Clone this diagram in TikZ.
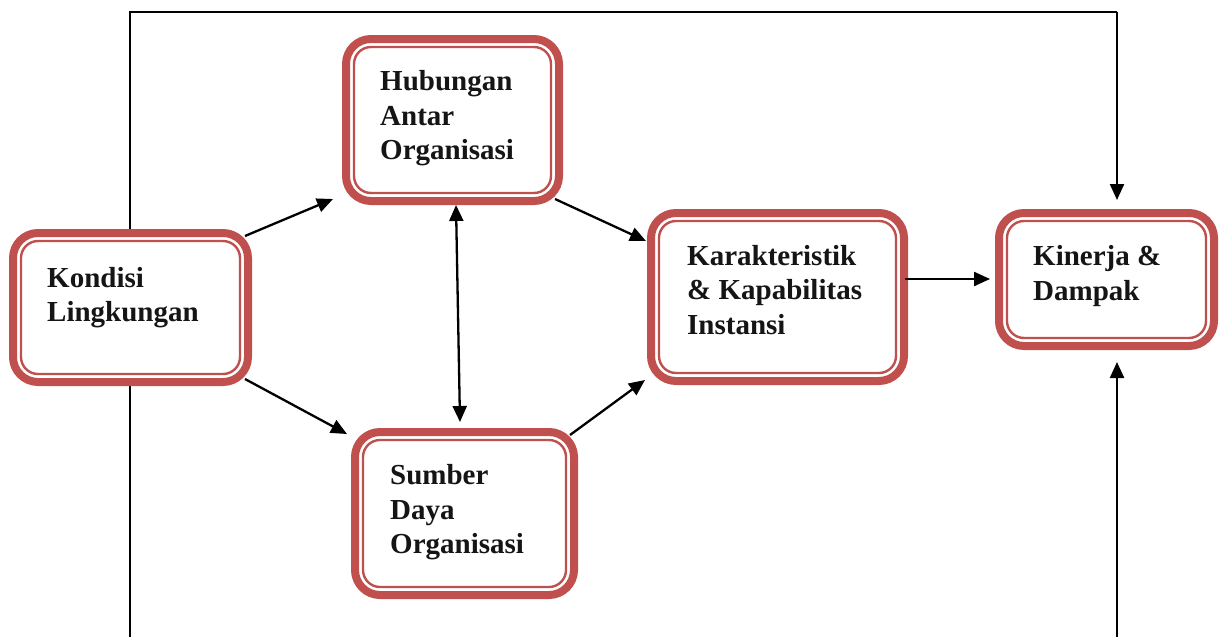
\documentclass[tikz,border=0pt]{standalone}
\usepackage{fontspec}
\setmainfont{Liberation Serif}
\usetikzlibrary{arrows.meta}
\definecolor{boxred}{HTML}{C0504D}
\definecolor{ink}{HTML}{151515}
\pgfdeclarelayer{bg}
\pgfsetlayers{bg,main}
% inner thin ring of a framed box
\newcommand\innerring[1]{%
  \draw[innerline] ([shift={(12,12)}]#1.north west) rectangle ([shift={(-12,-12)}]#1.south east);}

\begin{document}
\begin{tikzpicture}[x=1pt,y=-1pt,
  frame/.style={draw=boxred, line width=8pt, rounded corners=25pt, fill=white,
    inner sep=0pt, outer sep=4pt},
  innerline/.style={draw=boxred, line width=2.4pt, rounded corners=17pt},
  label text/.style={font=\fontsize{29}{34.5}\selectfont\bfseries, align=left,
    inner sep=0pt, text=ink, anchor=west},
  tip/.tip={Triangle[length=16pt,width=14pt]},
  conn/.style={draw=black, line width=2.3pt, -tip},
  both/.style={draw=black, line width=2.3pt, tip-tip},
  plain/.style={draw=black, line width=2pt}
]
\useasboundingbox (0,0) rectangle (1220,637);

% framed boxes
\node[frame, minimum width=235pt, minimum height=149pt] (k) at (130.5,307.5) {};
\node[frame, minimum width=213pt, minimum height=162pt] (h) at (452.5,120) {};
\node[frame, minimum width=253pt, minimum height=168pt] (c) at (777.5,297) {};
\node[frame, minimum width=215pt, minimum height=133pt] (p) at (1106.5,279.5) {};
\node[frame, minimum width=219pt, minimum height=163pt] (s) at (464.5,513.5) {};
\innerring{k}
\innerring{h}
\innerring{c}
\innerring{p}
\innerring{s}

% box texts
\node[label text] (kt) at (47,297.5) {Kondisi\\Lingkungan};
\node[label text] (ht) at (380,118.5) {Hubungan\\Antar\\Organisasi};
\node[label text] (ct) at (687,290) {Karakteristik\\\& Kapabilitas\\Instansi};
\node[label text] (pt) at (1033,276) {Kinerja \&\\Dampak};
\node[label text] (st) at (390,512.5) {Sumber\\Daya\\Organisasi};

% feedback loop ends
\coordinate (lb) at (130,637);
\coordinate (lt) at (130,12);
\coordinate (rt) at (1117,12);
\coordinate (rb) at (1117,637);

\begin{pgfonlayer}{bg}
  \draw[plain] (lb) -- (lt) -- (rt);
  \draw[conn] (rt) -- ([shift={(10.5,-9)}]p.north);
  \draw[conn] (rb) -- ([shift={(10.5,12)}]p.south);
\end{pgfonlayer}

% connectors between boxes
\draw[conn] ([shift={(-7,7)}]k.north east) -- ([shift={(-9,-6)}]h.south west);
\draw[conn] ([shift={(-7,-7)}]k.south east) -- ([shift={(-4,6)}]s.north west);
\draw[both] ([shift={(3.5,0)}]h.south) -- ([shift={(-4.5,-6)}]s.north);
\draw[conn] ([shift={(-8,-6)}]h.south east) -- ([shift={(-1,32)}]c.north west);
\draw[conn] ([shift={(-8,7)}]s.north east) -- ([shift={(-2,-5)}]c.south west);
\draw[conn] ([shift={(-3,-18)}]c.east) -- ([shift={(-5,-0.5)}]p.west);
\end{tikzpicture}
\end{document}
